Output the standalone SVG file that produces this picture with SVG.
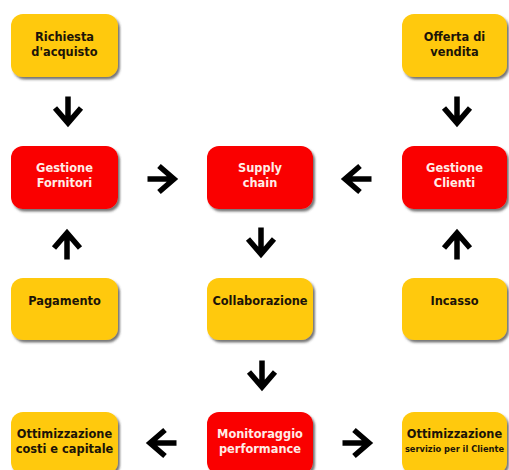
<svg xmlns="http://www.w3.org/2000/svg" width="509" height="470" viewBox="0 0 509 470">
<defs>
<filter id="sh" x="-10%" y="-10%" width="125%" height="130%">
<feDropShadow dx="2" dy="2.5" stdDeviation="1.2" flood-color="#3a3a3a" flood-opacity="0.7"/>
</filter>
<path id="arr" d="M-14.5,0 H12 M-3,-13 L12,0 L-3,13"/>
</defs>
<style>
.box{filter:url(#sh)}
.y{fill:#FFC90A}
.r{fill:#FA0000}
text{font-family:"DejaVu Sans","Verdana",sans-serif;font-weight:bold;font-size:11.4px;text-anchor:middle}
.dt{fill:#1c1408}
.wt{fill:#FFECE6}
.arrows use{fill:none;stroke:#000;stroke-width:5.5;stroke-linejoin:miter}
</style>
<rect width="509" height="470" fill="#fff"/>
<g id="richiesta"><rect class="box y" x="11" y="14" width="107" height="63" rx="12"/><text class="dt" x="64.5" y="41">Richiesta</text><text class="dt" x="64.5" y="56">d'acquisto</text></g>
<g id="offerta"><rect class="box y" x="402" y="14" width="105" height="63" rx="12"/><text class="dt" x="454.5" y="41">Offerta di</text><text class="dt" x="454.5" y="56">vendita</text></g>
<g id="fornitori"><rect class="box r" x="11" y="146" width="107" height="63" rx="12"/><text class="wt" x="64.5" y="172">Gestione</text><text class="wt" x="64.5" y="187">Fornitori</text></g>
<g id="supply"><rect class="box r" x="207" y="146" width="106" height="63" rx="12"/><text class="wt" x="260" y="172">Supply</text><text class="wt" x="260" y="187">chain</text></g>
<g id="clienti"><rect class="box r" x="402" y="146" width="105" height="63" rx="12"/><text class="wt" x="454.5" y="172">Gestione</text><text class="wt" x="454.5" y="187">Clienti</text></g>
<g id="pagamento"><rect class="box y" x="11" y="278" width="107" height="62" rx="12"/><text class="dt" x="64.5" y="305">Pagamento</text></g>
<g id="collaborazione"><rect class="box y" x="207" y="278" width="106" height="62" rx="12"/><text class="dt" x="260" y="305">Collaborazione</text></g>
<g id="incasso"><rect class="box y" x="402" y="278" width="105" height="62" rx="12"/><text class="dt" x="454.5" y="305">Incasso</text></g>
<g id="ottcosti"><rect class="box y" x="11" y="412" width="107" height="62" rx="12"/><text class="dt" x="64.5" y="438">Ottimizzazione</text><text class="dt" x="64.5" y="453">costi e capitale</text></g>
<g id="monitoraggio"><rect class="box r" x="207" y="412" width="106" height="62" rx="12"/><text class="wt" x="260" y="438">Monitoraggio</text><text class="wt" x="260" y="453">performance</text></g>
<g id="ottservizio"><rect class="box y" x="402" y="412" width="105" height="62" rx="12"/><text class="dt" x="454.5" y="438">Ottimizzazione</text><text class="dt" x="454.5" y="452" style="font-size:8.3px">servizio per il Cliente</text></g>
<g id="connectors" class="arrows">
<use href="#arr" transform="translate(68,111) rotate(90)"/>
<use href="#arr" transform="translate(457,111) rotate(90)"/>
<use href="#arr" transform="translate(162,179)"/>
<use href="#arr" transform="translate(357,179) rotate(180)"/>
<use href="#arr" transform="translate(67,245) rotate(-90)"/>
<use href="#arr" transform="translate(457,245) rotate(-90)"/>
<use href="#arr" transform="translate(261,242) rotate(90)"/>
<use href="#arr" transform="translate(262,375) rotate(90)"/>
<use href="#arr" transform="translate(162,443) rotate(180)"/>
<use href="#arr" transform="translate(357,443)"/>
</g>
</svg>
